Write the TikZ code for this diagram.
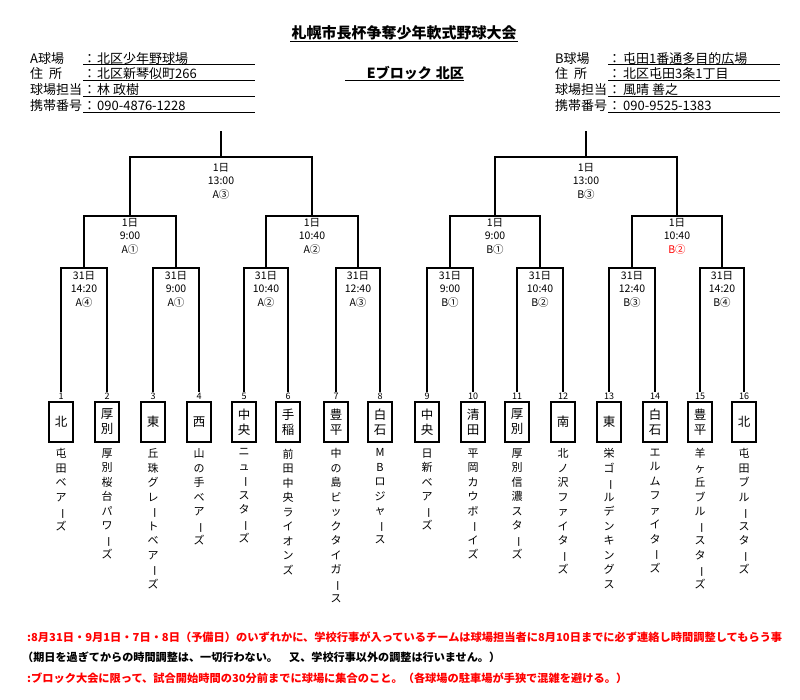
\documentclass[tikz,border=0pt]{standalone}
\usepackage{fontspec}
\setmainfont{Noto Sans CJK JP}
\usetikzlibrary{calc}
\definecolor{myred}{RGB}{255,0,0}
\newcommand\VB{\rotatebox[origin=c]{-90}{ー}}
\tikzset{
  bracket/.style={line width=2pt, line join=miter},
  lbl/.style={align=center, inner sep=0pt, anchor=north, font=\fontsize{10.5}{13.6}\selectfont},
  tbox/.style={draw, line width=1.2pt, minimum width=24pt, minimum height=40pt, inner sep=0pt, align=center, font=\fontsize{12.5}{15}\selectfont},
  num/.style={inner sep=0.6pt, font=\fontsize{9}{10}\selectfont},
  tname/.style={align=center, inner sep=0pt, anchor=north, font=\fontsize{11}{14.5}\selectfont},
  hdr/.style={anchor=base west, inner sep=0pt, font=\fontsize{13}{15}\selectfont},
  uline/.style={line width=0.9pt},
  foot/.style={anchor=base west, inner sep=0pt, font=\fontsize{11}{13}\selectfont\bfseries}
}
\begin{document}
\begin{tikzpicture}[x=1pt,y=-1pt]
\fill[white] (0,0) rectangle (800,699);
\useasboundingbox (0,0) rectangle (800,699);

% title
\node[anchor=base, inner sep=0pt, font=\fontsize{15}{17}\selectfont\bfseries] (title) at (404,38.5) {札幌市長杯争奪少年軟式野球大会};
\draw[uline] (290,41) -- (518,41);
\node[anchor=base east, inner sep=0pt, font=\fontsize{14}{15}\selectfont\bfseries] (block) at (464,78) {Eブロック\hspace{4pt}北区};
\draw[uline] (345,80.5) -- (464,80.5);

% left header
\node[hdr] (la1) at (30,63) {A球場};
\node[hdr] (la2) at (30,78) {住\hspace{6pt}所};
\node[hdr] (la3) at (30,94) {球場担当};
\node[hdr] (la4) at (30,110) {携帯番号};
\foreach \y in {63,78,94,110} \node[hdr] at (83,\y) {：};
\node[hdr] (lv1) at (97,63) {北区少年野球場};
\node[hdr] (lv2) at (97,78) {北区新琴似町266};
\node[hdr] (lv3) at (97,94) {林 政樹};
\node[hdr] (lv4) at (97,110) {090-4876-1228};
\foreach \y in {64.5,80.5,96.5,112.5} \draw[uline] (83,\y) -- (255,\y);

% right header
\node[hdr] (ra1) at (555,63) {B球場};
\node[hdr] (ra2) at (555,78) {住\hspace{6pt}所};
\node[hdr] (ra3) at (555,94) {球場担当};
\node[hdr] (ra4) at (555,110) {携帯番号};
\foreach \y in {63,78,94,110} \node[hdr] at (608,\y) {：};
\node[hdr] (rv1) at (623,63) {屯田1番通多目的広場};
\node[hdr] (rv2) at (623,78) {北区屯田3条1丁目};
\node[hdr] (rv3) at (623,94) {風晴 善之};
\node[hdr] (rv4) at (623,110) {090-9525-1383};
\foreach \y in {64.5,80.5,96.5,112.5} \draw[uline] (608,\y) -- (780,\y);

% teams
\foreach \i/\x/\sname/\lname in {
  1/61/北/{屯\\田\\ベ\\ア\\\VB\\ズ},
  2/107/{厚\\別}/{厚\\別\\桜\\台\\パ\\ワ\\\VB\\ズ},
  3/153/東/{丘\\珠\\グ\\レ\\\VB\\ト\\ベ\\ア\\\VB\\ズ},
  4/199/西/{山\\の\\手\\ベ\\ア\\\VB\\ズ},
  5/244/{中\\央}/{ニ\\ュ\\\VB\\ス\\タ\\\VB\\ズ},
  6/288/{手\\稲}/{前\\田\\中\\央\\ラ\\イ\\オ\\ン\\ズ},
  7/336/{豊\\平}/{中\\の\\島\\ビ\\ッ\\ク\\タ\\イ\\ガ\\\VB\\ス},
  8/380/{白\\石}/{M\\B\\ロ\\ジ\\ャ\\\VB\\ス},
  9/427/{中\\央}/{日\\新\\ベ\\ア\\\VB\\ズ},
  10/473/{清\\田}/{平\\岡\\カ\\ウ\\ボ\\\VB\\イ\\ズ},
  11/517/{厚\\別}/{厚\\別\\信\\濃\\ス\\タ\\\VB\\ズ},
  12/563/南/{北\\ノ\\沢\\フ\\ァ\\イ\\タ\\\VB\\ズ},
  13/609/東/{栄\\ゴ\\\VB\\ル\\デ\\ン\\キ\\ン\\グ\\ス},
  14/655/{白\\石}/{エ\\ル\\ム\\フ\\ァ\\イ\\タ\\\VB\\ズ},
  15/700/{豊\\平}/{羊\\ヶ\\丘\\ブ\\ル\\\VB\\ス\\タ\\\VB\\ズ},
  16/744/北/{屯\\田\\ブ\\ル\\\VB\\ス\\タ\\\VB\\ズ}}{
  \node[num] (k\i) at (\x,396) {\i};
  \node[tbox] (t\i) at (\x,422) {\sname};
  \node[tname] (w\i) at (\x,448.5) {\lname};
}

% match points
\foreach \j/\x in {1/84,2/176,3/266,4/358,5/450,6/540,7/632,8/722} \coordinate (m\j) at (\x,268);
\foreach \k/\x in {1/130,2/312,3/495,4/677} \coordinate (r\k) at (\x,216);
\coordinate (s1) at (221,157);
\coordinate (s2) at (586,157);
\coordinate (f1) at (221,131);
\coordinate (f2) at (586,131);

% brackets
\foreach \j [evaluate=\j as \a using int(2*\j-1), evaluate=\j as \b using int(2*\j)] in {1,...,8}
  \draw[bracket] (k\a.north) |- (m\j) -| (k\b.north);
\foreach \k [evaluate=\k as \a using int(2*\k-1), evaluate=\k as \b using int(2*\k)] in {1,...,4}
  \draw[bracket] (m\a) |- (r\k) -| (m\b);
\draw[bracket] (r1) |- (s1) -| (r2);
\draw[bracket] (r3) |- (s2) -| (r4);
\draw[bracket] (s1) -- (f1);
\draw[bracket] (s2) -- (f2);

% labels
\foreach \j/\t/\g in {1/14:20/A④,2/9:00/A①,3/10:40/A②,4/12:40/A③,5/9:00/B①,6/10:40/B②,7/12:40/B③,8/14:20/B④}
  \node[lbl] (lm\j) at ($(m\j)+(0,3)$) {31日\\\t\\\g};
\node[lbl] (lr1) at ($(r1)+(0,2)$) {1日\\9:00\\A①};
\node[lbl] (lr2) at ($(r2)+(0,2)$) {1日\\10:40\\A②};
\node[lbl] (lr3) at ($(r3)+(0,2)$) {1日\\9:00\\B①};
\node[lbl] (lr4) at ($(r4)+(0,2)$) {1日\\10:40\\\textcolor{myred}{B②}};
\node[lbl] (ls1) at ($(s1)+(0,6)$) {1日\\13:00\\A③};
\node[lbl] (ls2) at ($(s2)+(0,6)$) {1日\\13:00\\B③};

% footer
\node[foot, text=myred] (n1) at (27,641) {\resizebox{755pt}{\height}{:8月31日・9月1日・7日・8日（予備日）のいずれかに、学校行事が入っているチームは球場担当者に8月10日までに必ず連絡し時間調整してもらう事}};
\node[foot] (n2) at (22,661) {\resizebox{478pt}{\height}{（期日を過ぎてからの時間調整は、一切行わない。　又、学校行事以外の調整は行いません。）}};
\node[foot, text=myred] (n3) at (27,682) {\resizebox{600pt}{\height}{:ブロック大会に限って、試合開始時間の30分前までに球場に集合のこと。（各球場の駐車場が手狭で混雑を避ける。）}};
\end{tikzpicture}
\end{document}
